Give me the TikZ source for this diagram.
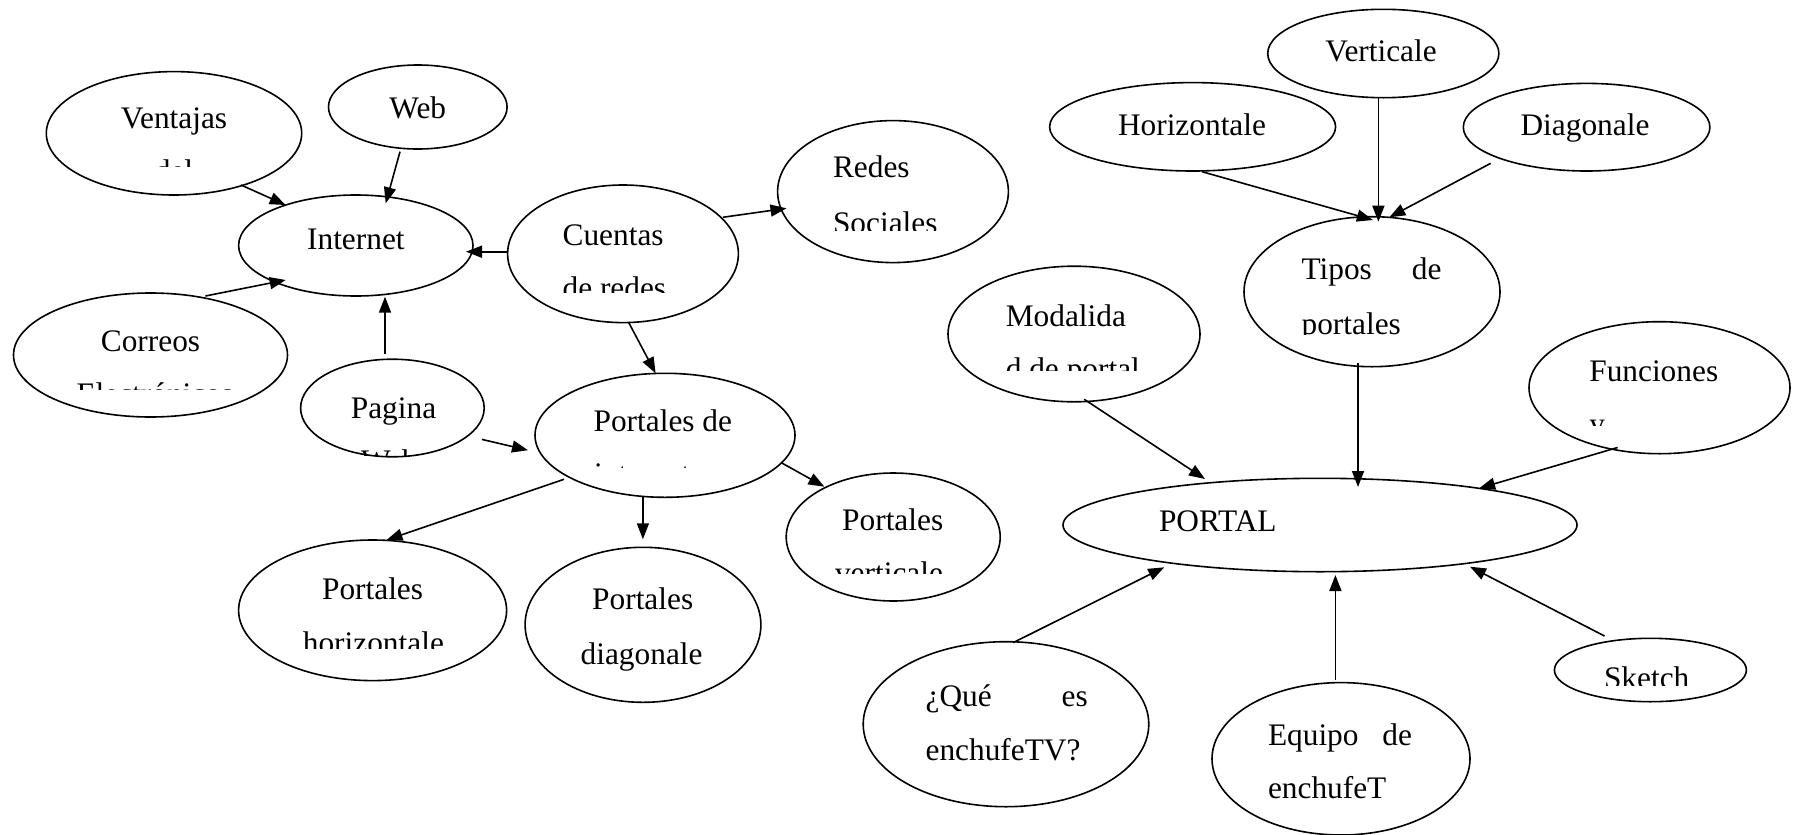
\documentclass[tikz,border=0pt]{standalone}
\usepackage{fontspec}
\setmainfont{Liberation Serif}
\usetikzlibrary{shapes.geometric,arrows.meta}
\tikzset{
  oval/.style={draw, ellipse, line width=1.6pt, inner sep=0pt, outer sep=0pt},
  txt/.style={inner sep=0pt, outer sep=0pt, font=\fontsize{31.35}{53}\selectfont},
  conn/.style={line width=1.6pt, -{Triangle[length=16pt,width=12pt]}},
}
\begin{document}
\begin{tikzpicture}[x=1pt,y=-1pt]
\useasboundingbox (0,0) rectangle (1799,835);
% ellipses
\node[oval, minimum width=255.4pt, minimum height=123.4pt] (ventajas) at (174,133.3) {};
\node[oval, minimum width=178.6pt, minimum height=84pt] (web) at (417.8,107) {};
\node[oval, minimum width=234.4pt, minimum height=101pt] (internet) at (355.8,245.5) {};
\node[oval, minimum width=274pt, minimum height=124pt] (correos) at (150.5,355) {};
\node[oval, minimum width=230.8pt, minimum height=137.6pt] (cuentas) at (623,253.8) {};
\node[oval, minimum width=230.8pt, minimum height=142pt] (redes) at (893,191.6) {};
\node[oval, minimum width=260pt, minimum height=124pt] (portalesde) at (665,435.3) {};
\node[oval, minimum width=183.6pt, minimum height=97.6pt] (pagina) at (392.4,408) {};
\node[oval, minimum width=268pt, minimum height=140.6pt] (phoriz) at (372.6,610.3) {};
\node[oval, minimum width=235.8pt, minimum height=155pt] (pdiag) at (643,624.8) {};
\node[oval, minimum width=214pt, minimum height=128pt] (pvert) at (893.2,537) {};
\node[oval, minimum width=231.2pt, minimum height=88.4pt] (verticale) at (1383.3,53.5) {};
\node[oval, minimum width=286pt, minimum height=88.4pt] (horizontale) at (1192.6,126.8) {};
\node[oval, minimum width=246.6pt, minimum height=87.6pt] (diagonale) at (1586.6,127.2) {};
\node[oval, minimum width=256pt, minimum height=150pt] (tipos) at (1372,291.7) {};
\node[oval, minimum width=252pt, minimum height=135.6pt] (modalida) at (1074,334) {};
\node[oval, minimum width=261pt, minimum height=132pt] (funciones) at (1659.5,387.7) {};
\node[oval, minimum width=514pt, minimum height=93.4pt] (portal) at (1320,525) {};
\node[oval, minimum width=285.6pt, minimum height=165pt] (que) at (1006,724.2) {};
\node[oval, minimum width=258pt, minimum height=152.4pt] (equipo) at (1341,758.8) {};
\node[oval, minimum width=192pt, minimum height=63.4pt] (sketch) at (1650.4,670) {};
% texts
\node[txt, anchor=base] (tventajas) at (174,128.3) {Ventajas};
\begin{scope}\clip (100,140) rectangle (260,166);
\node[txt, anchor=base] (tventajas2) at (174,181) {del};
\end{scope}
\node[txt, anchor=base] (tweb) at (417.8,118.3) {Web};
\node[txt, anchor=base] (tinternet) at (355.9,249) {Internet};
\node[txt, anchor=base] (tcorreos) at (150.5,351.7) {Correos};
\begin{scope}\clip (40,370) rectangle (280,389);
\node[txt, anchor=base west] (tcorreos2) at (76.5,404.7) {Electrónicos};
\end{scope}
\node[txt, anchor=base west] (tcuentas) at (562.6,245) {Cuentas};
\begin{scope}\clip (540,265) rectangle (740,292.7);
\node[txt, anchor=base west] (tcuentas2) at (562.6,298) {de redes};
\end{scope}
\node[txt, anchor=base west] (tredes) at (833,177) {Redes};
\begin{scope}\clip (800,195) rectangle (1000,230.5);
\node[txt, anchor=base west] (tredes2) at (833,233) {Sociales};
\end{scope}
\node[txt, anchor=base west] (tportalesde) at (593.6,431.7) {Portales de};
\begin{scope}\clip (560,450) rectangle (780,467);
\node[txt, anchor=base west] (tportalesde2) at (594,484.7) {internet};
\end{scope}
\node[txt, anchor=base] (tpagina) at (393.5,418.8) {Pagina};
\begin{scope}\clip (330,440) rectangle (460,455);
\node[txt, anchor=base west] (tpagina2) at (361,471.8) {Web};
\end{scope}
\node[txt, anchor=base] (tphoriz) at (372.6,599.3) {Portales};
\begin{scope}\clip (260,620) rectangle (490,648.3);
\node[txt, anchor=base] (tphoriz2) at (373.4,653.5) {horizontale};
\end{scope}
\node[txt, anchor=base] (tpdiag) at (642.7,609.3) {Portales};
\node[txt, anchor=base] (tpdiag2) at (641.6,664) {diagonale};
\node[txt, anchor=base] (tpvert) at (892.7,530.5) {Portales};
\begin{scope}\clip (800,550) rectangle (990,573);
\node[txt, anchor=base] (tpvert2) at (889,583.5) {verticale};
\end{scope}
\node[txt, anchor=base] (tverticale) at (1381,61.7) {Verticale};
\node[txt, anchor=base] (thorizontale) at (1192,135) {Horizontale};
\node[txt, anchor=base] (tdiagonale) at (1585,135) {Diagonale};
\node[txt, anchor=base west] (ttipos) at (1301.6,279.3) {Tipos};
\node[txt, anchor=base east] (ttiposde) at (1441.4,279.3) {de};
\begin{scope}\clip (1280,300) rectangle (1480,334.3);
\node[txt, anchor=base west] (ttipos2) at (1301.6,334) {portales};
\end{scope}
\node[txt, anchor=base west] (tmodalida) at (1005.8,326.7) {Modalida};
\begin{scope}\clip (980,345) rectangle (1190,370);
\node[txt, anchor=base west] (tmodalida2) at (1005.8,379.7) {d de portal};
\end{scope}
\node[txt, anchor=base west] (tfunciones) at (1589.3,381.7) {Funciones};
\begin{scope}\clip (1560,400) rectangle (1780,425.7);
\node[txt, anchor=base west] (tfunciones2) at (1589.3,434.7) {y};
\end{scope}
\node[txt, anchor=base west] (tportal) at (1159,531) {PORTAL};
\node[txt, anchor=base west] (tque) at (925.6,706.7) {¿Qué};
\node[txt, anchor=base east] (tquees) at (1087.7,706.7) {es};
\node[txt, anchor=base west] (tque2) at (925.6,760) {enchufeTV?};
\node[txt, anchor=base west] (tequipo) at (1268,745) {Equipo};
\node[txt, anchor=base east] (tequipode) at (1411.9,745) {de};
\node[txt, anchor=base west] (tequipo2) at (1268,798.3) {enchufeT};
\begin{scope}\clip (1570,650) rectangle (1730,685);
\node[txt, anchor=base] (tsketch) at (1646.7,688) {Sketch};
\end{scope}
% connector end points
\coordinate (s1) at (241,185);     \coordinate (e1) at (285.7,205);
\coordinate (s2) at (400,151.7);   \coordinate (e2) at (385.7,203.3);
\coordinate (s3) at (205.4,296);   \coordinate (e3) at (285.7,280);
\coordinate (s4) at (385,354);     \coordinate (e4) at (385,296.7);
\coordinate (s5) at (507,251.7);   \coordinate (e5) at (466,251.7);
\coordinate (s6) at (722.8,217.3); \coordinate (e6) at (786.5,208.3);
\coordinate (s7) at (628.8,322.7); \coordinate (e7) at (655.6,373.3);
\coordinate (s8) at (481.9,439.4); \coordinate (e8) at (528,450.2);
\coordinate (s9) at (781.3,462.7); \coordinate (e9) at (824.4,486.7);
\coordinate (s10) at (642.9,496.7); \coordinate (e10) at (642.9,539.3);
\coordinate (s11) at (564,479.3);  \coordinate (e11) at (386.5,540);
\coordinate (s12) at (1202,171.7); \coordinate (e12) at (1372.9,220);
\coordinate (s13) at (1378.4,96.7); \coordinate (e13) at (1378.4,221.7);
\coordinate (s14) at (1490.7,163.3); \coordinate (e14) at (1389.3,217.3);
\coordinate (s15) at (1358,362.7); \coordinate (e15) at (1358,487);
\coordinate (s16) at (1084.2,399.3); \coordinate (e16) at (1205,479);
\coordinate (s17) at (1617.6,447.5); \coordinate (e17) at (1479.1,488.3);
\coordinate (s18) at (1013,642.7); \coordinate (e18) at (1164.2,567.3);
\coordinate (s19) at (1335.4,680); \coordinate (e19) at (1335.4,575);
\coordinate (s20) at (1604.5,636); \coordinate (e20) at (1470,566.7);
% connectors
\foreach \i in {1,...,20} { \draw[conn] (s\i) -- (e\i); }
\end{tikzpicture}
\end{document}
